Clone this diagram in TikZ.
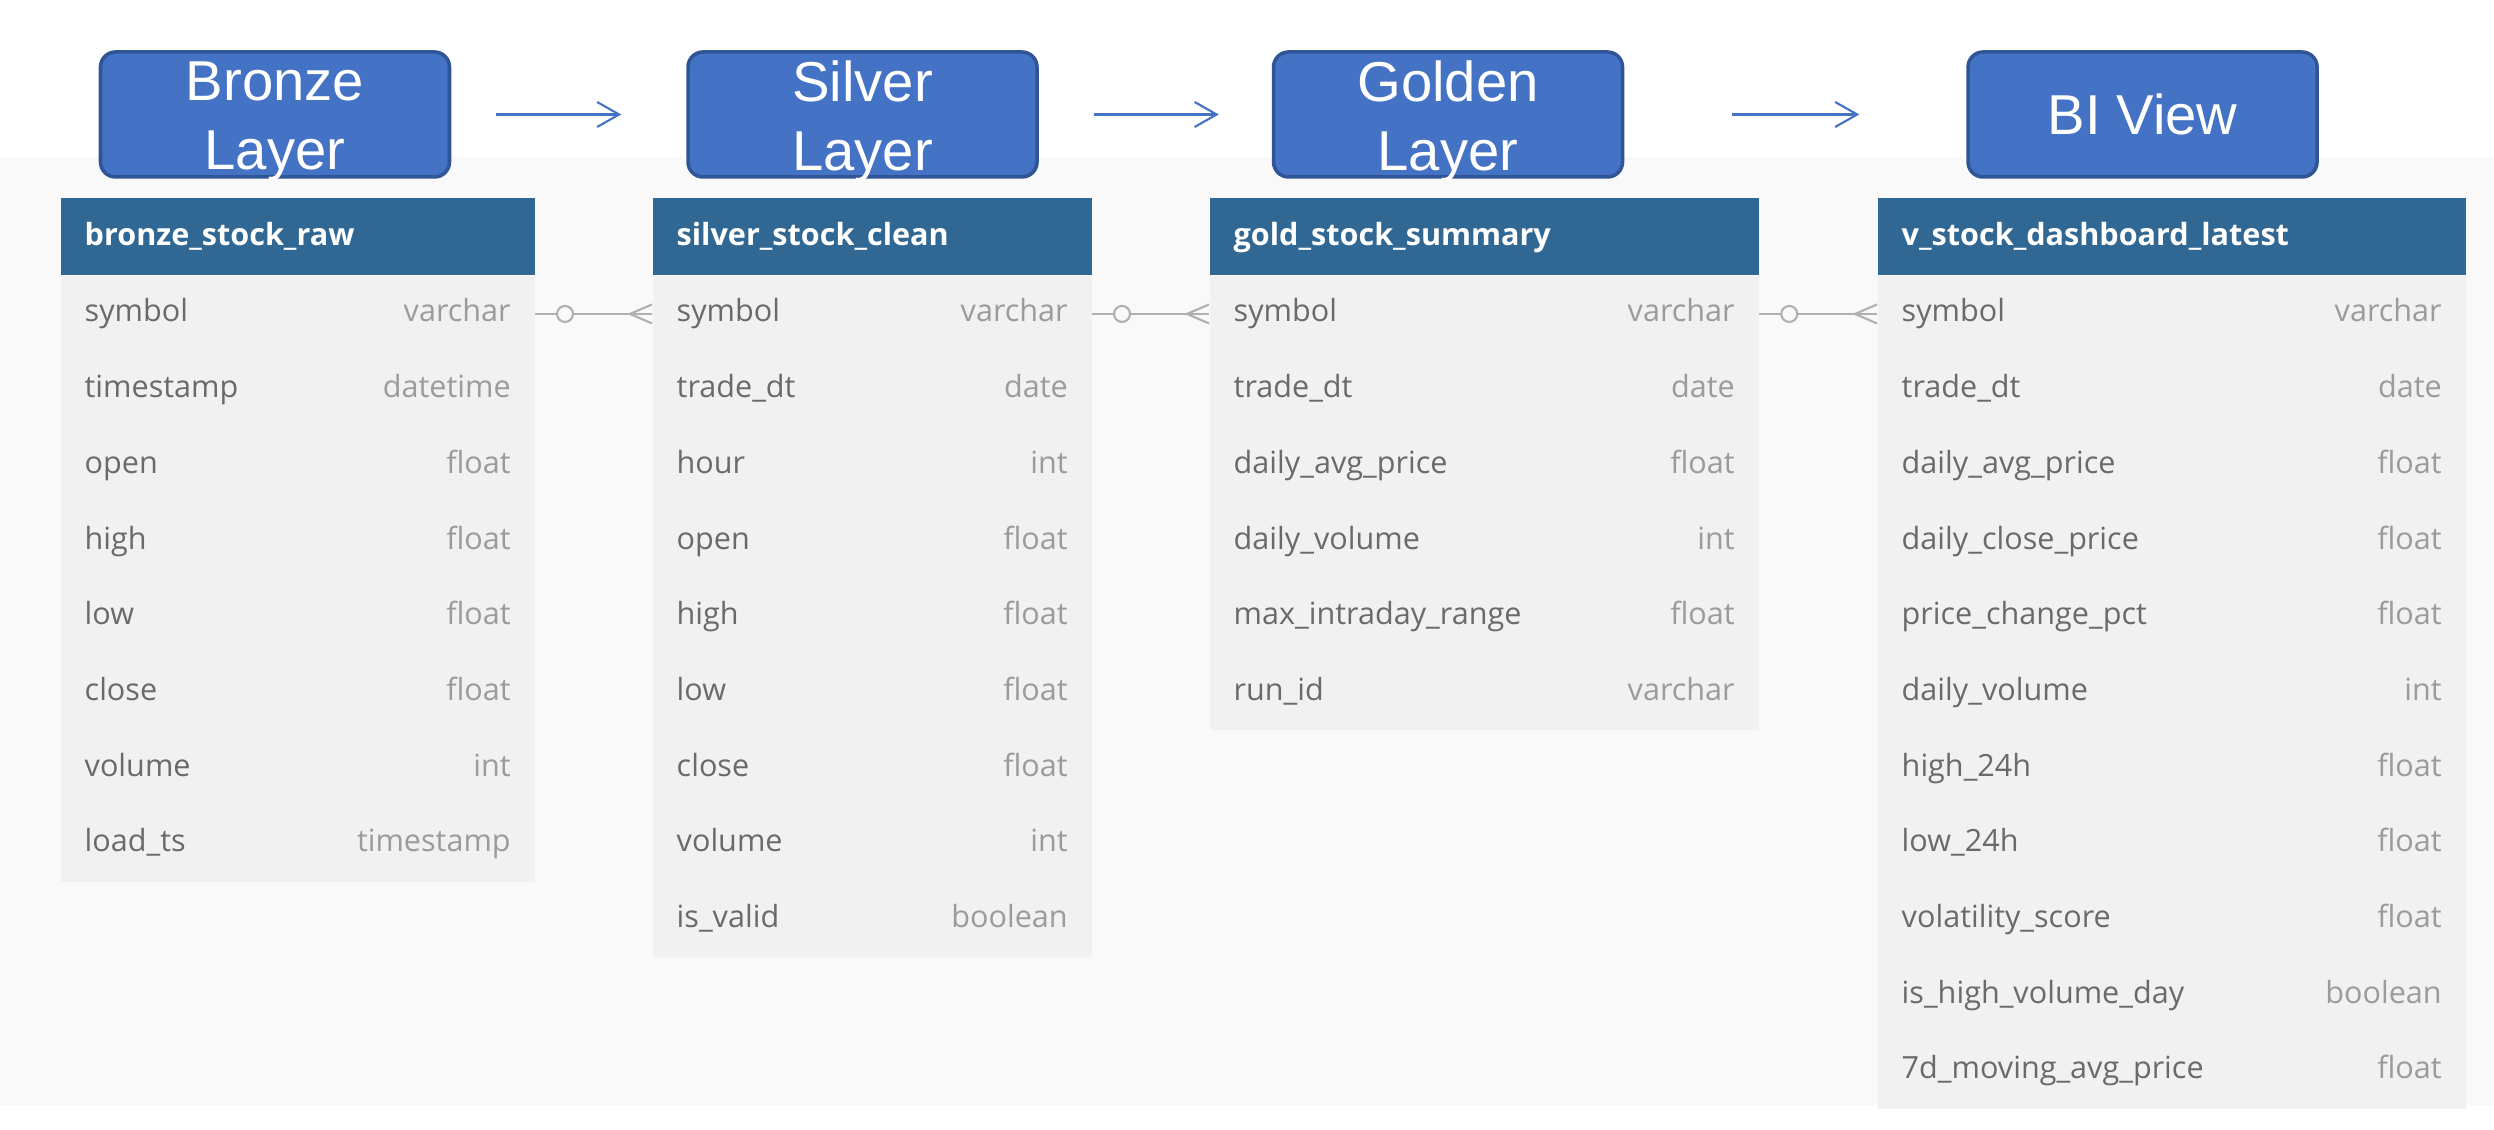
\documentclass[tikz,border=0pt]{standalone}
\usepackage{fontspec}
\newfontfamily\erfont{Open Sans}
\newfontfamily\layfont{Liberation Sans}
\usetikzlibrary{arrows.meta,positioning}
\definecolor{pagebg}{HTML}{F9F9F9}
\definecolor{rowbg}{HTML}{F1F1F1}
\definecolor{hdrc}{HTML}{316793}
\definecolor{layc}{HTML}{4472C4}
\definecolor{layd}{HTML}{2F5597}
\definecolor{namec}{HTML}{6A6A6A}
\definecolor{typec}{HTML}{9B9B9B}
\definecolor{relc}{HTML}{B0B0B0}
\tikzset{
  layer/.style={draw=layd,fill=layc,line width=1pt,rounded corners=0.15cm,minimum width=3.49cm,minimum height=1.25cm,inner sep=0pt},
  laytxt/.style={text=white,font=\layfont\fontsize{16}{19.6}\selectfont,align=center,inner sep=0pt},
  flow/.style={-{Straight Barb[length=0.22cm,width=0.25cm]},draw=layc,line width=0.6pt},
  tblhead/.style={fill=hdrc,text=white,font=\erfont\bfseries\fontsize{8.7}{10}\selectfont,anchor=north west,
                  inner xsep=0.24cm,inner ysep=0pt,minimum height=0.77cm,text width=#1,text height=0.24cm,text depth=0.06cm,align=left},
  row/.style={fill=rowbg,text=namec,font=\erfont\fontsize{8.7}{10}\selectfont,anchor=north west,
              inner xsep=0.24cm,inner ysep=0pt,minimum height=0.757cm,text width=#1,text height=0.24cm,text depth=0.08cm,align=left},
  coltype/.style={text=typec,font=\erfont\fontsize{8.7}{10}\selectfont,anchor=east,inner xsep=0.24cm,inner ysep=0pt,
                  text height=0.24cm,text depth=0.08cm},
  rel/.style={draw=relc,line width=0.6pt},
  relo/.style={circle,draw=relc,fill=pagebg,line width=0.6pt,inner sep=0pt,minimum size=0.16cm},
}

\begin{document}
\begin{tikzpicture}
  \useasboundingbox (0,0) rectangle (24.94,-11.30);
  \fill[white] (0,0) rectangle (24.94,-11.30);
  \fill[pagebg] (0,-1.57) rectangle (24.94,-11.05);
  % layer boxes
  \node[layer,label={[laytxt,yshift=-0.07cm]center:{Bronze\\Layer}}] (bronzelay) at (2.75,-1.145) {};
  \node[layer,right=2.35cm of bronzelay,label={[laytxt,yshift=-0.07cm]center:{Silver\\Layer}}] (silverlay) {};
  \node[layer,right=2.33cm of silverlay,label={[laytxt,yshift=-0.07cm]center:{Golden\\Layer}}] (goldlay) {};
  \node[layer,right=3.42cm of goldlay,label={[laytxt]center:{BI View}}] (bilay) {};
  \draw[flow,shorten <=0.45cm,shorten >=0.65cm] (bronzelay) -- (silverlay);
  \draw[flow,shorten <=0.55cm,shorten >=0.53cm] (silverlay) -- (goldlay);
  \draw[flow,shorten <=1.08cm,shorten >=1.07cm] (goldlay) -- (bilay);
  % tables
  \node[tblhead=4.26cm] (bronze-h) at (0.60,-1.97) {bronze\_stock\_raw};
  \foreach \nm/\ty [count=\i] in {symbol/varchar,timestamp/datetime,open/float,high/float,low/float,close/float,volume/int,load\_ts/timestamp}{
    \node[row=4.26cm] (bronze-\i) at ([yshift={-(\i-1)*0.757cm}]bronze-h.south west) {\nm};
    \node[coltype] (bronze-t\i) at (bronze-\i.east) {\ty};
  }
  \node[tblhead=3.91cm] (silver-h) at (6.52,-1.97) {silver\_stock\_clean};
  \foreach \nm/\ty [count=\i] in {symbol/varchar,trade\_dt/date,hour/int,open/float,high/float,low/float,close/float,volume/int,is\_valid/boolean}{
    \node[row=3.91cm] (silver-\i) at ([yshift={-(\i-1)*0.757cm}]silver-h.south west) {\nm};
    \node[coltype] (silver-t\i) at (silver-\i.east) {\ty};
  }
  \node[tblhead=5.01cm] (gold-h) at (12.09,-1.97) {gold\_stock\_summary};
  \foreach \nm/\ty [count=\i] in {symbol/varchar,trade\_dt/date,daily\_avg\_price/float,daily\_volume/int,max\_intraday\_range/float,run\_id/varchar}{
    \node[row=5.01cm] (gold-\i) at ([yshift={-(\i-1)*0.757cm}]gold-h.south west) {\nm};
    \node[coltype] (gold-t\i) at (gold-\i.east) {\ty};
  }
  \node[tblhead=5.40cm] (view-h) at (18.77,-1.97) {v\_stock\_dashboard\_latest};
  \foreach \nm/\ty [count=\i] in {symbol/varchar,trade\_dt/date,daily\_avg\_price/float,daily\_close\_price/float,price\_change\_pct/float,
      daily\_volume/int,high\_24h/float,low\_24h/float,volatility\_score/float,is\_high\_volume\_day/boolean,7d\_moving\_avg\_price/float}{
    \node[row=5.40cm] (view-\i) at ([yshift={-(\i-1)*0.757cm}]view-h.south west) {\nm};
    \node[coltype] (view-t\i) at (view-\i.east) {\ty};
  }
  % relations on symbol
  \foreach \a/\b in {bronze/silver,silver/gold,gold/view}{
    \draw[rel] (\a-1.east) -- node[relo,pos=0.254] (\a-o) {} (\b-1.west);
    \draw[rel] ([yshift=0.095cm]\b-1.west) -- ([xshift=-0.22cm]\b-1.west) -- ([yshift=-0.095cm]\b-1.west);
  }
\end{tikzpicture}
\end{document}
